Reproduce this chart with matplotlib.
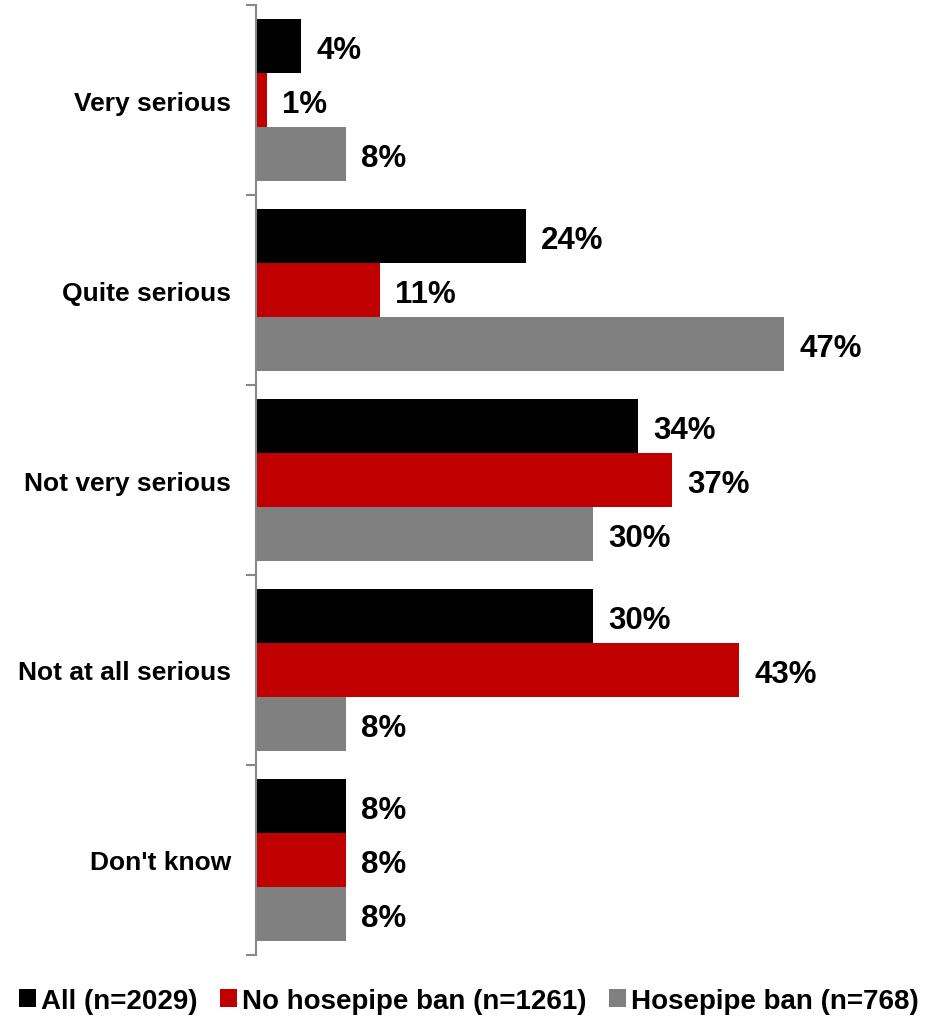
import numpy as np
import matplotlib
matplotlib.use('Agg')
import matplotlib.pyplot as plt

plt.rcParams['font.family'] = ['Liberation Sans', 'DejaVu Sans']
plt.rcParams['font.weight'] = 'bold'

categories = ['Very serious', 'Quite serious', 'Not very serious', 'Not at all serious', "Don't know"]
series_names = ['All (n=2029)', 'No hosepipe ban (n=1261)', 'Hosepipe ban (n=768)']
all_vals = [4, 24, 34, 30, 8]
no_ban_vals = [1, 11, 37, 43, 8]
ban_vals = [8, 47, 30, 8, 8]
colors = ['#000000', '#C00000', '#808080']

fig = plt.figure(figsize=(9.38, 10.2), dpi=100)
ax = fig.add_axes([256 / 938, 1 - 956 / 1020, 674 / 938, 950 / 1020])

y = np.arange(len(categories))
h = 0.284
for i, (vals, c, name) in enumerate(zip([all_vals, no_ban_vals, ban_vals], colors, series_names)):
    pos = y + (i - 1) * h
    ax.barh(pos, vals, height=h, color=c, label=name)
    for p, v in zip(pos, vals):
        ax.text(v + 1.35, p + 0.02, f'{v}%', va='center', ha='left', fontsize=22.5, fontweight='bold')

ax.set_xlim(0, 60)
ax.set_ylim(len(categories) - 0.5, -0.5)

# boundary ticks as major, labels as minor
ax.set_yticks(np.arange(-0.5, len(categories)), labels=[])
ax.set_yticks(y, labels=categories, minor=True)
ax.tick_params(axis='y', which='major', length=7, width=1.5, color='#888888', direction='out')
ax.tick_params(axis='y', which='minor', length=0, pad=18, labelsize=19)
ax.set_xticks([])

for s in ['top', 'right', 'bottom']:
    ax.spines[s].set_visible(False)
ax.spines['left'].set_color('#888888')
ax.spines['left'].set_linewidth(1.5)

fig.legend(loc='center', bbox_to_anchor=(0.5, 1 - 1002 / 1020), ncol=3, frameon=False,
           fontsize=20, handlelength=0.6, handleheight=0.6, handletextpad=0.2,
           columnspacing=0.8, borderpad=0)

fig.savefig('out.png', dpi=100)
